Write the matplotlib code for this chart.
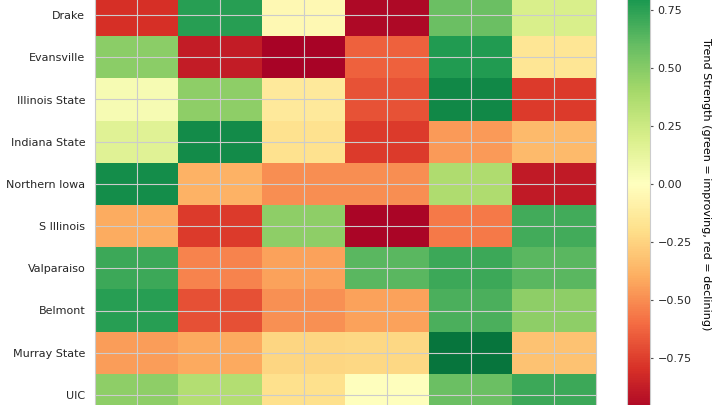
import numpy as np
import matplotlib
matplotlib.use('Agg')
import matplotlib.pyplot as plt

# teams shown (top to bottom) and trend strength per column
teams = ['Drake', 'Evansville', 'Illinois State', 'Indiana State', 'Northern Iowa',
         'S Illinois', 'Valparaiso', 'Belmont', 'Murray State', 'UIC']
drake = [-0.80, 0.76, -0.04, -0.96, 0.58, 0.20]
evansville = [0.48, -0.88, -0.98, -0.64, 0.78, -0.16]
illinois_state = [0.04, 0.47, -0.14, -0.68, 0.86, -0.76]
indiana_state = [0.16, 0.85, -0.18, -0.76, -0.46, -0.35]
northern_iowa = [0.84, -0.38, -0.50, -0.50, 0.36, -0.89]
s_illinois = [-0.40, -0.76, 0.47, -0.97, -0.56, 0.69]
valparaiso = [0.71, -0.53, -0.43, 0.63, 0.71, 0.63]
belmont = [0.76, -0.69, -0.49, -0.43, 0.67, 0.47]
murray_state = [-0.45, -0.41, -0.24, -0.23, 0.94, -0.32]
uic = [0.47, 0.35, -0.19, 0.00, 0.58, 0.71]
cbar_ticks = [-0.75, -0.50, -0.25, 0.00, 0.25, 0.50, 0.75]

data = np.array([drake, evansville, illinois_state, indiana_state, northern_iowa,
                 s_illinois, valparaiso, belmont, murray_state, uic])

plt.rcParams['font.family'] = 'DejaVu Sans'
plt.rcParams['text.color'] = '#262626'
plt.rcParams['ytick.color'] = '#262626'

fig = plt.figure(figsize=(7.2, 4.05), dpi=100)

# heatmap axes runs past the top/bottom of the figure (cropped view)
ax = fig.add_axes([95 / 720, -11 / 405, 501 / 720, 422 / 405])
im = ax.imshow(data, cmap='RdYlGn', vmin=-1, vmax=1, aspect='auto', zorder=0)
ax.set_yticks(range(len(teams)))
ax.set_yticklabels(teams, fontsize=8)
ax.set_xticks(range(data.shape[1]))
ax.set_xticklabels([])
ax.tick_params(length=0, pad=7)
ax.grid(True, color='#cccccc', linewidth=0.8, zorder=1)
ax.set_axisbelow(False)
for s in ax.spines.values():
    s.set_color('#cccccc')

# colorbar, centred on 0 at y=184px, 232px per unit
cax = fig.add_axes([627 / 720, (405 - 416) / 405, 23 / 720, 464 / 405])
cb = fig.colorbar(im, cax=cax)
cb.set_ticks(cbar_ticks)
cb.ax.tick_params(labelsize=8, length=2.5, width=0.8, color='#555555', pad=3)
cb.outline.set_edgecolor('#cccccc')
cb.outline.set_linewidth(0.8)
cb.set_label('Trend Strength (green = improving, red = declining)',
             rotation=270, fontsize=8, labelpad=14)

fig.savefig('out.png', dpi=100)
